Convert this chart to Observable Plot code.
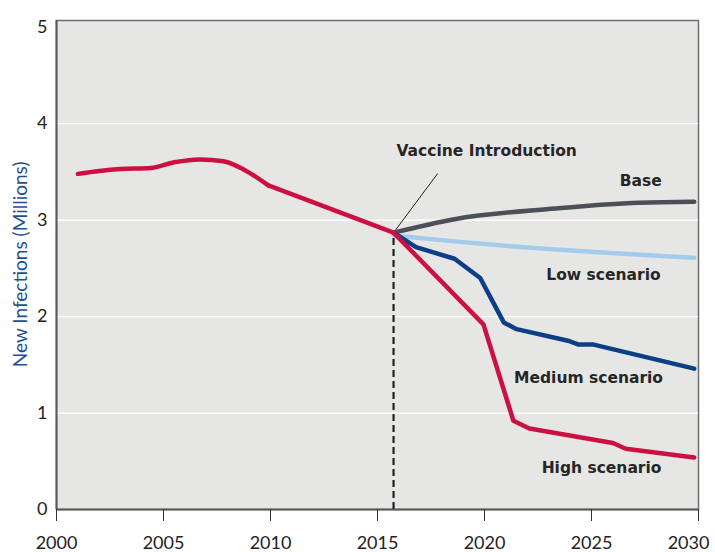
<!DOCTYPE html>
<html>
<head>
<meta charset="utf-8">
<script src="https://cdn.jsdelivr.net/npm/d3@7"></script>
<script src="https://cdn.jsdelivr.net/npm/@observablehq/plot@0.6"></script>
<style>
  body { margin: 0; background: #fff; }
  #chart svg { display: block; }
</style>
</head>
<body>
<div id="chart"></div>
<script>
// Historical new infections (millions)
const histCurveYears = [2001.0, 2002.0, 2003.0, 2004.4, 2005.5, 2006.7, 2007.8, 2009.1, 2009.9];
const histCurveValues = [3.48, 3.51, 3.53, 3.54, 3.60, 3.63, 3.61, 3.48, 3.36];
const histLineYears = [2009.9, 2015.75];
const histLineValues = [3.36, 2.87];

// Scenarios after vaccine introduction
const baseYears = [2015.75, 2018.6, 2023.3, 2027.2, 2029.8];
const baseValues = [2.87, 3.01, 3.12, 3.18, 3.19];

const lowYears = [2015.75, 2018.6, 2020.7, 2029.8];
const lowValues = [2.84, 2.78, 2.74, 2.61];

const medYears = [2015.75, 2016.8, 2018.6, 2019.8, 2020.9, 2021.5, 2023.9, 2024.4, 2025.1, 2029.8];
const medValues = [2.87, 2.72, 2.60, 2.40, 1.94, 1.87, 1.75, 1.71, 1.71, 1.46];

const highYears = [2015.75, 2019.95, 2021.35, 2022.1, 2026.0, 2026.6, 2029.8];
const highValues = [2.87, 1.92, 0.92, 0.84, 0.69, 0.63, 0.54];

const vaccineYear = 2015.75;
const vaccineValue = 2.87;

const labelNames = ["Base", "Low scenario", "Medium scenario", "High scenario"];
const labelYears = [2027.3, 2025.56, 2024.86, 2025.47];
const labelValues = [3.41, 2.43, 1.36, 0.425];

const noteText = "Vaccine Introduction";
const noteYear = 2020.1;
const noteValue = 3.72;
const noteLineEnd = [2017.8, 3.48];

const xTicks = [2000, 2005, 2010, 2015, 2020, 2025, 2030];
const yTicks = [0, 1, 2, 3, 4, 5];
const yLabel = "New Infections (Millions)";

const toRows = (xs, ys) => xs.map((x, i) => ({x, y: ys[i]}));

const histCurve = toRows(histCurveYears, histCurveValues);
const histLine = toRows(histLineYears, histLineValues);
const base = toRows(baseYears, baseValues);
const low = toRows(lowYears, lowValues);
const med = toRows(medYears, medValues);
const high = toRows(highYears, highValues);
const labels = labelNames.map((t, i) => ({t, x: labelYears[i], y: labelValues[i]}));

const red = "#cc1142";
const lw = 4.5;
const labelFont = "'DejaVu Sans', sans-serif";

const chart = Plot.plot({
  width: 715,
  height: 552,
  marginLeft: 56,
  marginRight: 17,
  marginTop: 20,
  marginBottom: 43,
  style: {fontFamily: "Lato, 'Open Sans', sans-serif", background: "#fff"},
  x: {domain: [2000, 2030]},
  y: {domain: [0, 5.07]},
  marks: [
    Plot.frame({fill: "#e6e7e5", stroke: "#6e6e6e", strokeWidth: 1.5}),
    Plot.gridY([1, 2, 3, 4], {stroke: "#ffffff", strokeOpacity: 1, strokeWidth: 1.2}),
    Plot.ruleX([2000], {stroke: "#5a5a5a", strokeWidth: 2}),
    Plot.ruleY([0], {stroke: "#5a5a5a", strokeWidth: 2}),
    Plot.axisX(xTicks, {tickFormat: () => "", tickSize: 12, stroke: "#333", label: null}),
    Plot.axisX(xTicks.slice(0, -1), {tickFormat: d => String(d), tickSize: 0, tickPadding: 27, fontSize: 18, fill: "#222", label: null}),
    Plot.axisX(xTicks.slice(-1), {tickFormat: d => String(d), tickSize: 0, tickPadding: 27, fontSize: 18, fill: "#222", label: null, dx: -10}),
    Plot.axisY(yTicks, {tickFormat: d => String(d), tickSize: 0, tickPadding: 9, fontSize: 18, fill: "#222", label: null}),
    Plot.text([yLabel], {x: 2000, y: 2.5, dx: -36, dy: -4, rotate: -90, fontSize: 19, fill: "#1d4f91", textAnchor: "middle"}),
    Plot.ruleX([vaccineYear], {y1: 0, y2: vaccineValue, stroke: "#222", strokeWidth: 2.2, strokeDasharray: "7,4"}),
    Plot.line([{x: vaccineYear, y: vaccineValue}, {x: noteLineEnd[0], y: noteLineEnd[1]}], {x: "x", y: "y", stroke: "#222", strokeWidth: 1}),
    Plot.line(base, {x: "x", y: "y", stroke: "#4b4f58", strokeWidth: lw, curve: "monotone-x"}),
    Plot.line(low, {x: "x", y: "y", stroke: "#a3cbeb", strokeWidth: lw, curve: "monotone-x"}),
    Plot.line(med, {x: "x", y: "y", stroke: "#0b3f86", strokeWidth: lw, curve: "linear"}),
    Plot.line(high, {x: "x", y: "y", stroke: red, strokeWidth: lw, curve: "linear"}),
    Plot.line(histLine, {x: "x", y: "y", stroke: red, strokeWidth: lw}),
    Plot.line(histCurve, {x: "x", y: "y", stroke: red, strokeWidth: lw, curve: "monotone-x"}),
    Plot.text(labels, {x: "x", y: "y", text: "t", fontSize: 15.5, fontWeight: "bold", fill: "#262626", fontFamily: labelFont}),
    Plot.text([noteText], {x: noteYear, y: noteValue, fontSize: 15.5, fontWeight: "bold", fill: "#262626", fontFamily: labelFont})
  ]
});
document.getElementById("chart").appendChild(chart);
</script>
</body>
</html>
